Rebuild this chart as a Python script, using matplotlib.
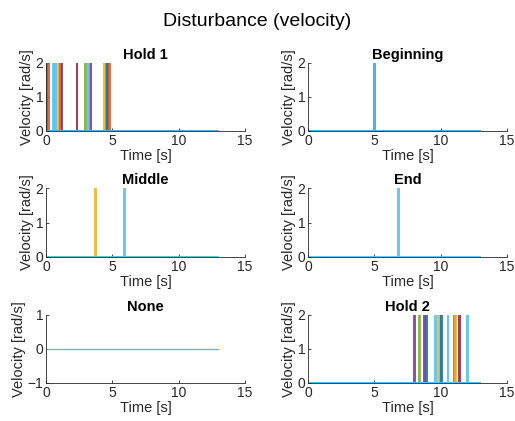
import matplotlib
matplotlib.use("Agg")
import matplotlib.pyplot as plt
import numpy as np

plt.rcParams['font.family'] = ['Liberation Sans', 'DejaVu Sans']

# ---- data ----
T_END = 13.0
PULSE_AMP = 2.0
PULSE_DUR = 0.07

titles = ["Hold 1", "Beginning", "Middle", "End", "None", "Hold 2"]

hold1_times = [0.0, 0.12, 0.5, 0.68, 0.93, 1.05, 1.17, 2.3, 2.94, 3.32, 4.4, 4.52, 4.62, 4.75, 3.19]
hold1_colors = ["C1", "C2", "C6", "C6", "C3", "C2", "C4", "C7", "C5", "C4", "C3", "C5", "C1", "C2", "C6"]

beginning_times = [5.0, 5.0]
beginning_colors = ["C1", "C6"]

middle_times = [3.7, 5.9]
middle_colors = ["C3", "C6"]

end_times = [6.8]
end_colors = ["C6"]

none_times = []
none_colors = ["C6"]

hold2_times = [8.02, 8.38, 8.77, 8.93, 9.8, 9.95, 10.05, 10.98, 11.1, 11.35, 9.6, 10.52, 11.96]
hold2_colors = ["C4", "C5", "C4", "C1", "C3", "C3", "C1", "C2", "C3", "C7", "C6", "C6", "C6"]

x_ticks = [0, 5, 10, 15]
x_lim = (0, 15)

matlab = {"C1": "#0072BD", "C2": "#D95319", "C3": "#EDB120", "C4": "#7E2F8E",
          "C5": "#77AC30", "C6": "#4DBEEE", "C7": "#A2142F"}

panels = [(hold1_times, hold1_colors), (beginning_times, beginning_colors),
          (middle_times, middle_colors), (end_times, end_colors),
          (none_times, none_colors), (hold2_times, hold2_colors)]

def pulse_signal(tp):
    t = [0.0, tp, tp, tp + PULSE_DUR, tp + PULSE_DUR, T_END]
    v = [0.0, 0.0, PULSE_AMP, PULSE_AMP, 0.0, 0.0]
    return t, v

fig = plt.figure(figsize=(5.15, 4.21), dpi=100)
W, H = 515.0, 421.0
col_left = [46, 308]
col_w = 199
rows = [(63, 131), (188, 257), (315, 383)]

axc = "#262626"
for i, (times, cols) in enumerate(panels):
    r, c = divmod(i, 2)
    top, bot = rows[r]
    ax = fig.add_axes([col_left[c] / W, 1 - bot / H, col_w / W, (bot - top) / H])
    if times:
        for tp, cc in zip(times, cols):
            t, v = pulse_signal(tp)
            ax.plot(t, v, color=matlab[cc], lw=1.4, alpha=0.85)
        ax.set_ylim(0, 2)
        ax.set_yticks([0, 1, 2])
    else:
        ax.plot([0, T_END], [0, 0], color=matlab[cols[0]], lw=1.0)
        ax.set_ylim(-1, 1)
        ax.set_yticks([-1, 0, 1])
    ax.set_xlim(*x_lim)
    ax.set_xticks(x_ticks)
    for s in ["top", "right"]:
        ax.spines[s].set_visible(False)
    for s in ["left", "bottom"]:
        ax.spines[s].set_color(axc)
        ax.spines[s].set_linewidth(0.6)
    ax.tick_params(direction="in", length=2.5, width=0.6, colors=axc, labelsize=10, pad=2)
    ax.set_xlabel("Time [s]", fontsize=10.5, color=axc, labelpad=1)
    ax.set_ylabel("Velocity [rad/s]", fontsize=10.5, color=axc, labelpad=1)
    ax.set_title(titles[i], fontsize=10.5, fontweight="bold", color="black", pad=3)

fig.suptitle("Disturbance (velocity)", fontsize=14, y=0.968, color="black")
fig.savefig("out.png", dpi=100)
